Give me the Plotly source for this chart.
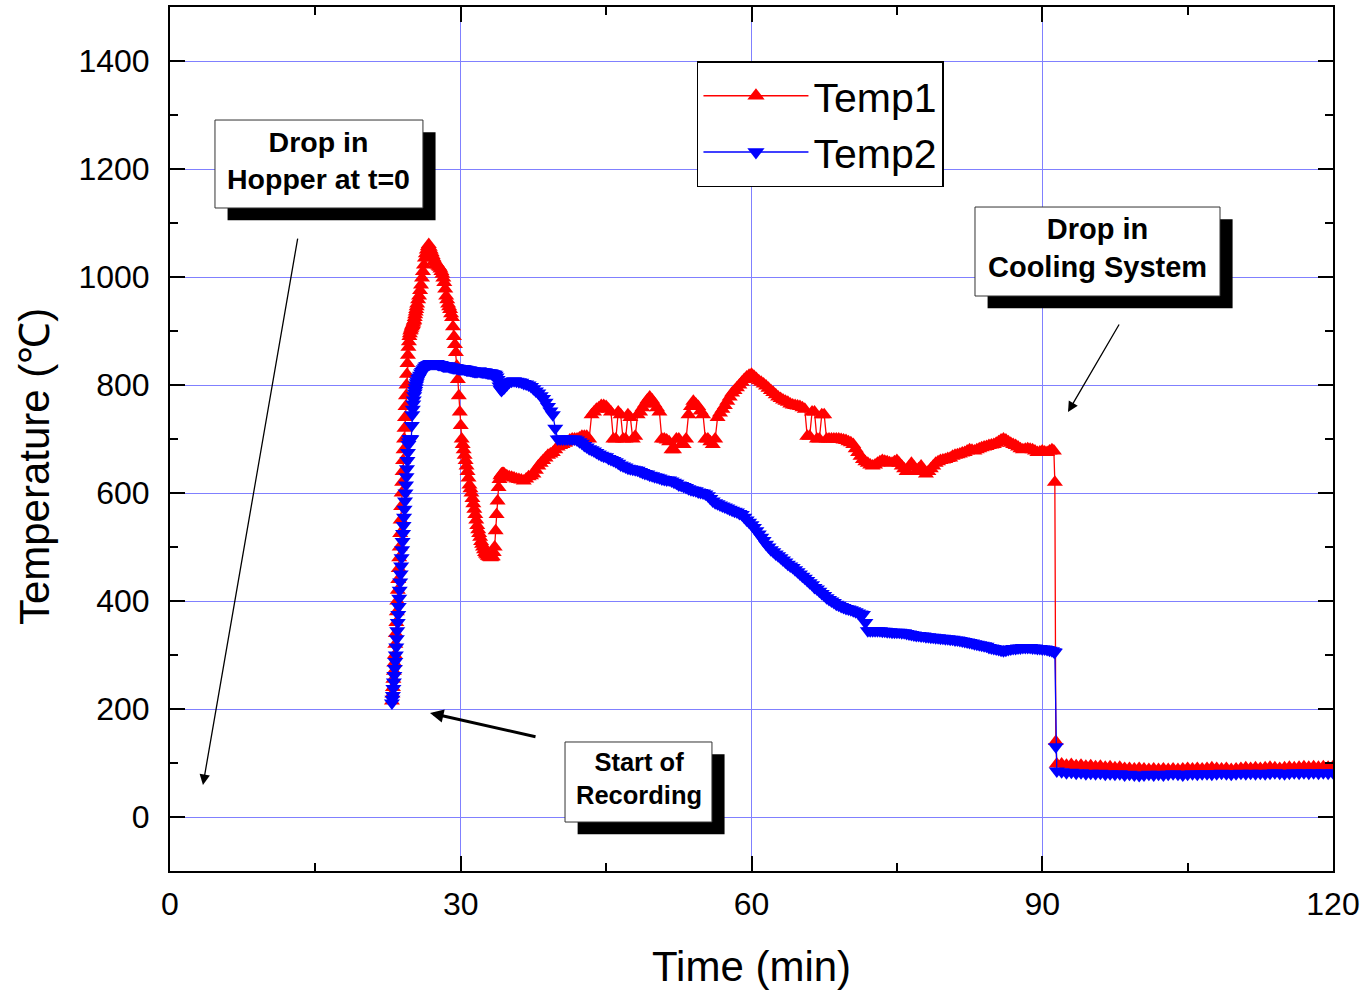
import plotly.graph_objects as go

# ---------------- data ----------------
# heating-up phase (dense recording)
time_rise = [22.90, 22.95, 23.00, 23.05, 23.10, 23.15, 23.20, 23.25, 23.30, 23.35,
             23.40, 23.45, 23.50, 23.55, 23.60, 23.65, 23.70, 23.75, 23.80, 23.85,
             23.90, 23.95, 24.00, 24.05, 24.10, 24.15, 24.20, 24.25, 24.30, 24.35,
             24.40, 24.45, 24.50, 24.55, 24.60, 24.65, 24.70, 24.75, 24.80, 24.85,
             24.90, 24.95, 25.00, 25.05, 25.10, 25.15, 25.20, 25.25, 25.30, 25.35,
             25.40, 25.45, 25.50]
temp1_rise = [215, 228, 240, 255, 270, 285, 300, 320, 340, 360,
              380, 400, 420, 440, 460, 480, 500, 525, 550, 575,
              600, 620, 640, 660, 680, 700, 720, 740, 760, 780,
              800, 820, 840, 855, 870, 880, 890, 895, 900, 902,
              905, 908, 910, 912, 915, 918, 920, 925, 930, 935,
              940, 945, 950]
temp2_rise = [211, 218, 225, 238, 250, 262, 275, 288, 300, 315,
              330, 345, 360, 375, 390, 405, 420, 435, 450, 465,
              480, 495, 510, 525, 540, 555, 570, 585, 600, 615,
              630, 645, 660, 675, 690, 695, 700, 700, 700, 700,
              700, 725, 745, 755, 765, 772, 780, 785, 790, 795,
              800, 804, 808]

# peak phase
time_peak = [25.6, 25.7, 25.8, 25.9, 26.0, 26.1, 26.2, 26.3, 26.4, 26.5,
             26.6, 26.7, 26.8, 26.9, 27.0, 27.1, 27.2, 27.3, 27.4, 27.5,
             27.6, 27.7, 27.8, 27.9, 28.0, 28.1, 28.2, 28.3, 28.4, 28.5,
             28.6, 28.7, 28.8, 28.9, 29.0, 29.1, 29.2, 29.3, 29.4, 29.5,
             29.6, 29.7, 29.8, 29.9, 30.0, 30.1, 30.2, 30.3, 30.4, 30.5,
             30.6, 30.7, 30.8, 30.9, 31.0, 31.1, 31.2, 31.3, 31.4, 31.5,
             31.6, 31.7, 31.8, 31.9, 32.0, 32.1, 32.2, 32.3, 32.4, 32.5,
             32.6, 32.7, 32.8, 32.9, 33.0, 33.1, 33.2, 33.3, 33.4, 33.5,
             33.6, 33.7, 33.8, 33.9, 34.0, 34.1, 34.2, 34.3, 34.4]
temp1_peak = [958, 965, 975, 985, 998, 1010, 1022, 1035, 1043, 1050,
              1056, 1060, 1055, 1050, 1045, 1040, 1035, 1030, 1028, 1025,
              1022, 1020, 1018, 1015, 1010, 1005, 998, 990, 978, 965,
              958, 950, 945, 940, 932, 925, 908, 890, 875, 860,
              835, 810, 780, 750, 725, 700, 690, 680, 670, 660,
              650, 640, 628, 615, 608, 600, 590, 580, 570, 560,
              550, 540, 532, 525, 518, 510, 505, 500, 495, 490,
              487, 485, 483, 482, 481, 480, 481, 482, 490, 500,
              530, 560, 585, 610, 625, 632, 635, 636, 636]
temp2_peak = [812, 815, 818, 822, 825, 828, 830, 833, 835, 836,
              837, 838, 839, 840, 840, 840, 840, 840, 840, 840,
              839, 838, 838, 838, 837, 836, 835, 835, 835, 835,
              835, 835, 834, 834, 833, 833, 832, 832, 832, 832,
              831, 831, 830, 830, 830, 830, 830, 830, 829, 829,
              828, 828, 828, 828, 827, 827, 826, 826, 825, 825,
              825, 825, 826, 826, 825, 825, 824, 824, 824, 824,
              823, 823, 822, 822, 822, 822, 821, 821, 820, 820,
              818, 815, 810, 805, 798, 792, 790, 792, 795]

# operating phase (one row per minute: :00, :15, :30, :45)
time_main = [34.5, 34.75,
             35.0, 35.25, 35.5, 35.75, 36.0, 36.25, 36.5, 36.75,
             37.0, 37.25, 37.5, 37.75, 38.0, 38.25, 38.5, 38.75,
             39.0, 39.25, 39.5, 39.75, 40.0, 40.25, 40.5, 40.75,
             41.0, 41.25, 41.5, 41.75, 42.0, 42.25, 42.5, 42.75,
             43.0, 43.25, 43.5, 43.75, 44.0, 44.25, 44.5, 44.75,
             45.0, 45.25, 45.5, 45.75, 46.0, 46.25, 46.5, 46.75,
             47.0, 47.25, 47.5, 47.75, 48.0, 48.25, 48.5, 48.75,
             49.0, 49.25, 49.5, 49.75, 50.0, 50.25, 50.5, 50.75,
             51.0, 51.25, 51.5, 51.75, 52.0, 52.25, 52.5, 52.75,
             53.0, 53.25, 53.5, 53.75, 54.0, 54.25, 54.5, 54.75,
             55.0, 55.25, 55.5, 55.75, 56.0, 56.25, 56.5, 56.75,
             57.0, 57.25, 57.5, 57.75, 58.0, 58.25, 58.5, 58.75,
             59.0, 59.25, 59.5, 59.75, 60.0, 60.25, 60.5, 60.75,
             61.0, 61.25, 61.5, 61.75, 62.0, 62.25, 62.5, 62.75,
             63.0, 63.25, 63.5, 63.75, 64.0, 64.25, 64.5, 64.75,
             65.0, 65.25, 65.5, 65.75, 66.0, 66.25, 66.5, 66.75,
             67.0, 67.25, 67.5, 67.75, 68.0, 68.25, 68.5, 68.75,
             69.0, 69.25, 69.5, 69.75, 70.0, 70.25, 70.5, 70.75,
             71.0, 71.25, 71.5, 71.75, 72.0, 72.25, 72.5, 72.75,
             73.0, 73.25, 73.5, 73.75, 74.0, 74.25, 74.5, 74.75,
             75.0, 75.25, 75.5, 75.75, 76.0, 76.25, 76.5, 76.75,
             77.0, 77.25, 77.5, 77.75, 78.0, 78.25, 78.5, 78.75,
             79.0, 79.25, 79.5, 79.75, 80.0, 80.25, 80.5, 80.75,
             81.0, 81.25, 81.5, 81.75, 82.0, 82.25, 82.5, 82.75,
             83.0, 83.25, 83.5, 83.75, 84.0, 84.25, 84.5, 84.75,
             85.0, 85.25, 85.5, 85.75, 86.0, 86.25, 86.5, 86.75,
             87.0, 87.25, 87.5, 87.75, 88.0, 88.25, 88.5, 88.75,
             89.0, 89.25, 89.5, 89.75, 90.0, 90.25, 90.5, 90.75,
             91.0]
temp1_main = [635, 632,
              630, 629, 628, 626, 625, 624, 622, 626,
              630, 632, 635, 642, 650, 655, 660, 665,
              670, 672, 675, 680, 685, 688, 690, 692,
              695, 698, 700, 700, 700, 702, 705, 705,
              705, 700, 745, 750, 755, 758, 762, 762,
              760, 755, 750, 700, 700, 750, 745, 700,
              700, 745, 740, 700, 705, 745, 750, 758,
              765, 772, 778, 772, 765, 758, 750, 700,
              700, 698, 695, 680, 680, 700, 700, 690,
              690, 700, 745, 760, 770, 765, 760, 752,
              745, 700, 700, 695, 690, 700, 740, 748,
              755, 762, 770, 778, 785, 790, 795, 800,
              805, 810, 815, 818, 820, 816, 812, 808,
              805, 802, 798, 794, 790, 786, 782, 778,
              775, 772, 770, 768, 765, 763, 762, 761,
              760, 758, 755, 705, 705, 750, 750, 700,
              700, 745, 745, 700, 700, 700, 700, 700,
              700, 699, 698, 697, 695, 693, 690, 682,
              675, 668, 662, 658, 655, 652, 650, 652,
              655, 658, 660, 659, 658, 656, 655, 658,
              660, 655, 650, 645, 640, 648, 655, 648,
              640, 645, 650, 642, 635, 640, 645, 650,
              655, 658, 660, 661, 662, 664, 665, 668,
              670, 671, 672, 674, 675, 678, 680, 679,
              678, 680, 682, 684, 685, 686, 688, 689,
              690, 692, 695, 698, 700, 698, 695, 692,
              690, 688, 685, 682, 680, 681, 682, 681,
              680, 678, 675, 676, 678, 676, 675, 678,
              680]
temp2_main = [795, 800,
              805, 807, 808, 807, 806, 805, 803, 802,
              800, 797, 793, 789, 785, 780, 775, 768,
              760, 752, 745, 720, 700, 700, 700, 700,
              700, 700, 700, 700, 698, 695, 692, 688,
              685, 682, 680, 678, 675, 672, 670, 668,
              667, 664, 662, 660, 658, 655, 652, 650,
              648, 646, 645, 644, 643, 642, 640, 638,
              636, 635, 633, 632, 630, 629, 628, 626,
              625, 624, 624, 622, 620, 618, 615, 614,
              612, 610, 608, 606, 605, 604, 602, 601,
              600, 598, 595, 590, 585, 582, 580, 578,
              576, 574, 572, 570, 568, 566, 565, 562,
              560, 555, 550, 546, 541, 536, 530, 524,
              518, 512, 505, 500, 495, 491, 487, 484,
              480, 476, 472, 468, 465, 462, 458, 454,
              450, 446, 442, 438, 434, 430, 425, 422,
              418, 414, 410, 406, 403, 400, 397, 394,
              392, 390, 388, 386, 385, 384, 382, 380,
              378, 376, 375, 360, 345, 345, 345, 345,
              345, 345, 344, 344, 343, 343, 342, 342,
              342, 342, 341, 341, 340, 339, 338, 337,
              336, 336, 335, 335, 334, 334, 333, 333,
              332, 332, 331, 331, 330, 330, 329, 329,
              328, 328, 327, 326, 325, 324, 323, 322,
              321, 320, 319, 318, 317, 316, 314, 313,
              312, 311, 310, 309, 308, 309, 310, 311,
              312, 312, 313, 313, 314, 314, 314, 314,
              313, 313, 312, 312, 311, 311, 310, 309,
              308]

# sudden drop into the cooling system
time_drop = [91.2, 91.3, 91.4, 91.5]
temp1_drop = [678, 620, 140, 98]
temp2_drop = [306, 305, 130, 85]

# cooled phase
time_tail = [92.0, 92.5, 93.0, 93.5, 94.0, 94.5, 95.0, 95.5, 96.0, 96.5,
             97.0, 97.5, 98.0, 98.5, 99.0, 99.5, 100.0, 100.5, 101.0, 101.5,
             102.0, 102.5, 103.0, 103.5, 104.0, 104.5, 105.0, 105.5, 106.0, 106.5,
             107.0, 107.5, 108.0, 108.5, 109.0, 109.5, 110.0, 110.5, 111.0, 111.5,
             112.0, 112.5, 113.0, 113.5, 114.0, 114.5, 115.0, 115.5, 116.0, 116.5,
             117.0, 117.5, 118.0, 118.5, 119.0, 119.5, 120.0]
temp1_tail = [98, 96, 97, 95, 96, 94, 95, 93, 94, 92,
              93, 91, 92, 90, 90, 89, 90, 89, 88, 89,
              88, 89, 88, 89, 88, 89, 90, 89, 90, 89,
              90, 91, 90, 89, 90, 88, 89, 90, 91, 90,
              91, 90, 91, 92, 91, 90, 91, 92, 91, 92,
              93, 92, 93, 92, 93, 92, 93]
temp2_tail = [84, 82, 83, 81, 82, 80, 81, 80, 81, 79,
              80, 79, 80, 78, 79, 78, 77, 78, 79, 78,
              79, 78, 79, 80, 79, 78, 79, 80, 79, 80,
              80, 79, 80, 81, 80, 79, 80, 81, 80, 81,
              80, 81, 80, 81, 82, 81, 80, 81, 82, 81,
              82, 81, 82, 81, 82, 81, 82]

time_min = time_rise + time_peak + time_main + time_drop + time_tail
temp1 = temp1_rise + temp1_peak + temp1_main + temp1_drop + temp1_tail
temp2 = temp2_rise + temp2_peak + temp2_main + temp2_drop + temp2_tail

x_ticks = [0, 30, 60, 90, 120]
y_ticks = [0, 200, 400, 600, 800, 1000, 1200, 1400]

FONT = "Liberation Sans, Arial, Helvetica, sans-serif"
RED = "#ff0000"
BLUE = "#0000ff"

fig = go.Figure()
fig.add_trace(go.Scatter(x=time_min, y=temp1, mode="lines+markers", name="Temp1",
                         line=dict(color=RED, width=1.3),
                         marker=dict(symbol="triangle-up", size=14, color=RED),
                         showlegend=False))
fig.add_trace(go.Scatter(x=time_min, y=temp2, mode="lines+markers", name="Temp2",
                         line=dict(color=BLUE, width=1.3),
                         marker=dict(symbol="triangle-down", size=14, color=BLUE),
                         showlegend=False))
# legend entries (larger symbols, as in the reference legend)
fig.add_trace(go.Scatter(x=[None], y=[None], mode="lines+markers", name="Temp1",
                         line=dict(color=RED, width=1.5),
                         marker=dict(symbol="triangle-up", size=15, color=RED)))
fig.add_trace(go.Scatter(x=[None], y=[None], mode="lines+markers", name="Temp2",
                         line=dict(color=BLUE, width=1.5),
                         marker=dict(symbol="triangle-down", size=15, color=BLUE)))

# annotation boxes with drop shadows (data coordinates)
boxes = [
    # (x0, x1, y0, y1, text, font size)
    (4.64, 26.1, 1127.8, 1290.7, "<b>Drop in<br>Hopper at t=0</b>", 28.5),
    (83.06, 108.34, 964.8, 1129.6, "<b>Drop in<br>Cooling System</b>", 29),
    (40.76, 55.92, -9.3, 138.9, "<b>Start of<br>Recording</b>", 25.5),
]
dx, dy = 1.3, -22.5
shapes = []
annotations = []
for x0, x1, y0, y1, txt, fs in boxes:
    shapes.append(dict(type="rect", xref="x", yref="y", x0=x0 + dx, x1=x1 + dx,
                       y0=y0 + dy, y1=y1 + dy, fillcolor="black",
                       line=dict(width=0), layer="above"))
    shapes.append(dict(type="rect", xref="x", yref="y", x0=x0, x1=x1, y0=y0, y1=y1,
                       fillcolor="white", line=dict(color="#333333", width=1),
                       layer="above"))
    annotations.append(dict(x=(x0 + x1) / 2, y=(y0 + y1) / 2, xref="x", yref="y",
                            text=txt, showarrow=False, yshift=4,
                            font=dict(family=FONT, size=fs, color="black")))

arrows = [
    # head x, head y, tail x, tail y, width
    (3.40, 59.3, 13.2, 1074.0, 1.3),
    (26.83, 192.6, 37.87, 148.0, 3.0),
    (92.66, 750.0, 98.02, 914.8, 1.3),
]
for hx, hy, tx, ty, w in arrows:
    annotations.append(dict(x=hx, y=hy, ax=tx, ay=ty, xref="x", yref="y",
                            axref="x", ayref="y", text="", showarrow=True,
                            arrowhead=2, arrowsize=1.6 if w < 2 else 0.9,
                            arrowwidth=w, arrowcolor="black", standoff=0))

# axis titles
annotations.append(dict(text="Time (min)", xref="paper", yref="paper", x=0.5, y=-0.1111,
                        xanchor="center", yanchor="middle", showarrow=False,
                        font=dict(family=FONT, size=42, color="black")))
annotations.append(dict(text="Temperature (℃)", xref="paper", yref="paper", x=-0.116, y=0.4676,
                        xanchor="center", yanchor="middle", showarrow=False, textangle=-90,
                        font=dict(family=FONT, size=42, color="black")))

axis_common = dict(
    showline=True, linewidth=2, linecolor="black", mirror="allticks",
    ticks="inside", ticklen=15, tickwidth=2, tickcolor="black",
    showgrid=True, gridcolor="#8080ff", gridwidth=1, zeroline=False,
    automargin=False,
    tickfont=dict(family=FONT, size=32, color="black"),
)

fig.update_layout(
    width=1365, height=990,
    margin=dict(l=170, r=32, t=7, b=119),
    plot_bgcolor="white", paper_bgcolor="white",
    font=dict(family=FONT, color="black"),
    xaxis=dict(range=[0, 120], tickvals=x_ticks, ticklabelstandoff=4,
               minor=dict(dtick=15, tick0=0, ticks="inside", ticklen=8, tickwidth=2,
                          tickcolor="black", showgrid=False),
               **axis_common),
    yaxis=dict(range=[-100, 1500], tickvals=y_ticks, ticklabelstandoff=12,
               minor=dict(dtick=100, tick0=0, ticks="inside", ticklen=8, tickwidth=2,
                          tickcolor="black", showgrid=False),
               **axis_common),
    legend=dict(x=0.4531, y=0.9375, xanchor="left", yanchor="top",
                bgcolor="white", bordercolor="black", borderwidth=1.5,
                font=dict(family=FONT, size=41, color="black"),
                itemwidth=105, tracegroupgap=0),
    shapes=shapes,
    annotations=annotations,
)

fig.write_html("out.html")
